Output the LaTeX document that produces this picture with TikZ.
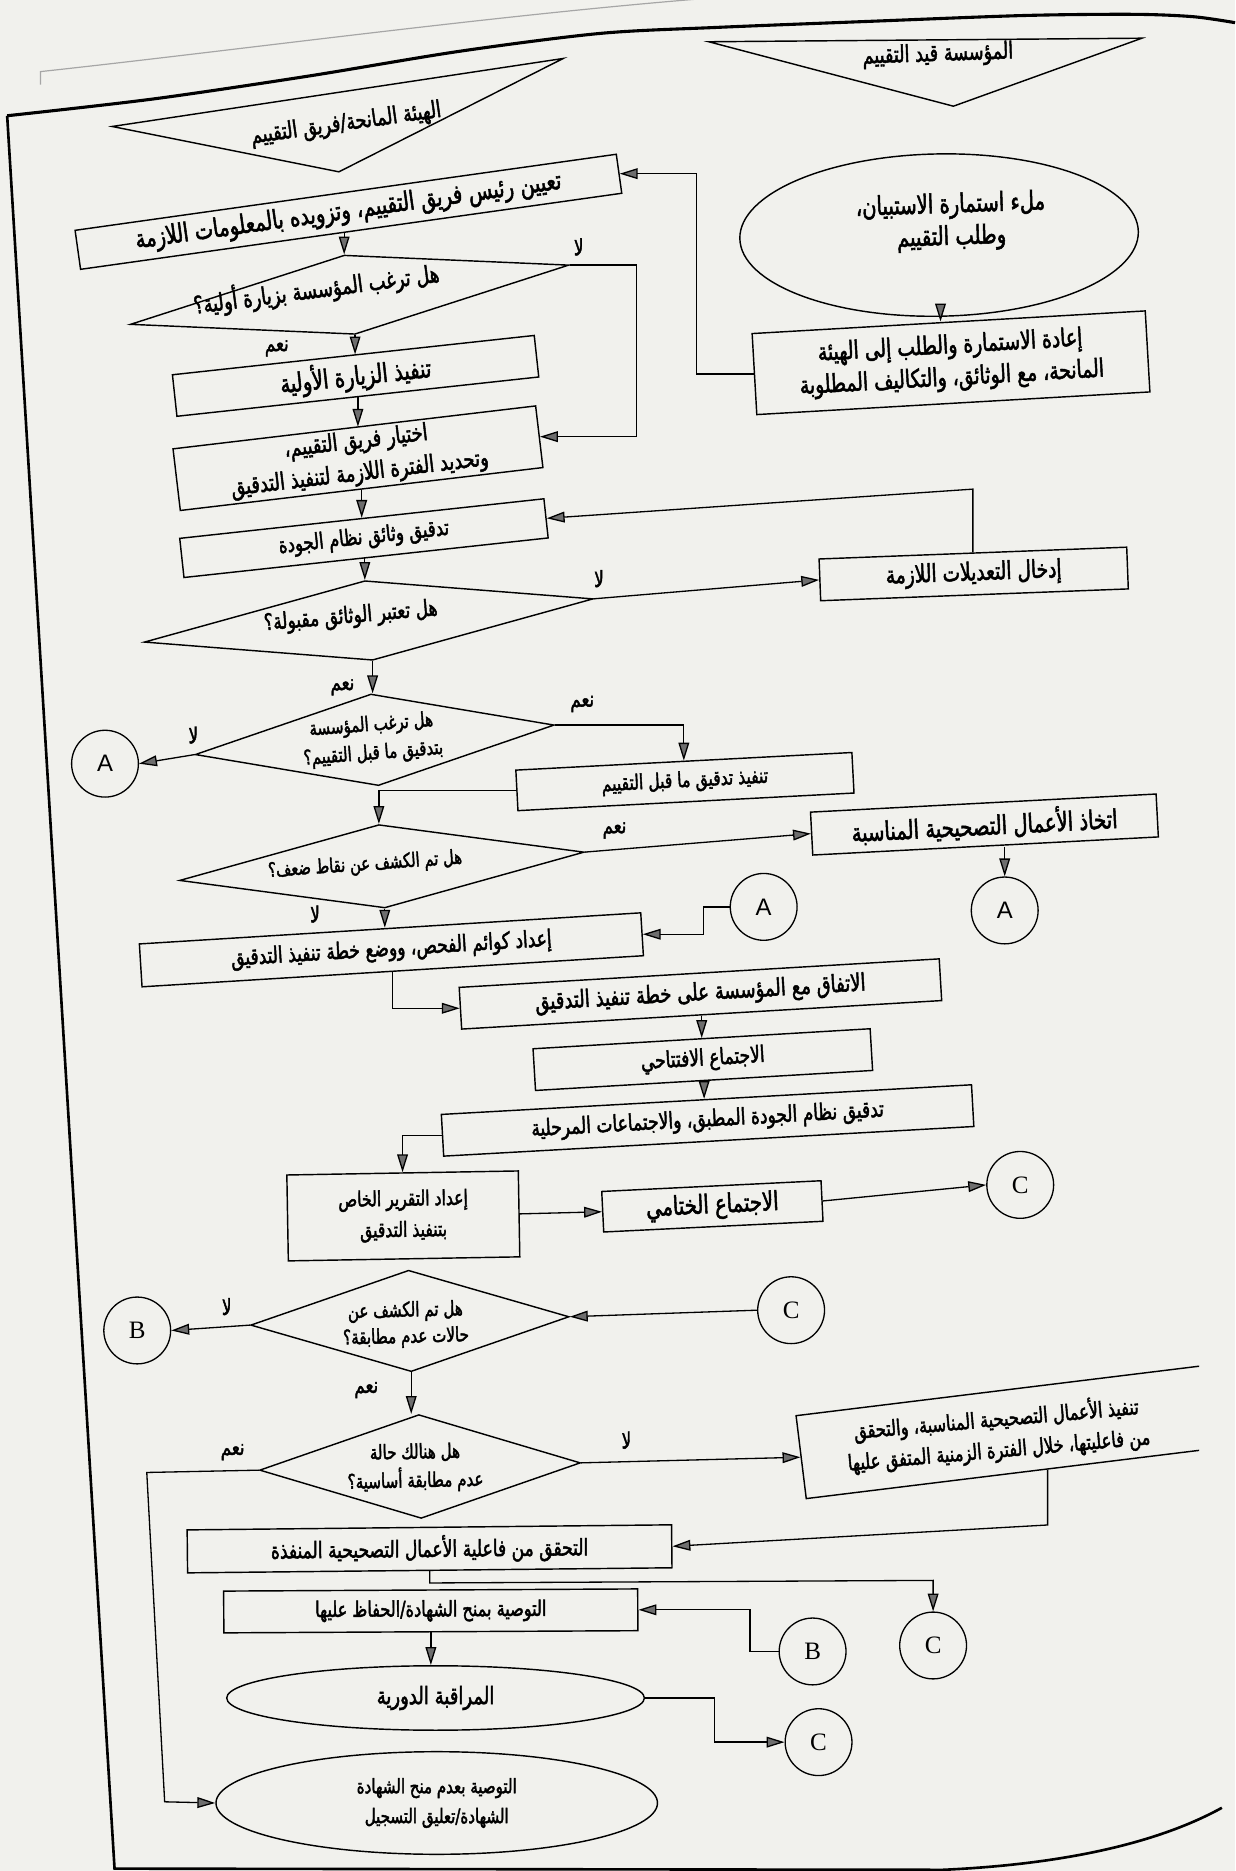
\documentclass[tikz,border=0pt]{standalone}
\usepackage{fontspec}
\usetikzlibrary{shapes.geometric,arrows.meta,calc}
\TeXXeTstate=1
\newfontfamily\arfont[Script=Arabic,FakeStretch=0.75,FakeBold=2]{DejaVu Sans}
\newfontfamily\serifletter{Liberation Serif}
\newfontfamily\sansletter{Liberation Sans}
\newcommand\artxt[1]{\beginR #1\endR}
\newcommand\arsize[2]{\arfont\fontsize{#1}{#2}\selectfont}
\definecolor{paper}{RGB}{241,241,237}
\definecolor{tipfill}{RGB}{110,110,110}
\begin{document}
\begin{tikzpicture}[x=1pt,y=-1pt,
  stepbox/.style={draw, line width=1.2pt, rectangle, inner sep=1pt, align=center,
    font=\arsize{19.7}{25}},
  decision/.style={draw, line width=1.2pt, diamond, inner sep=0pt},
  term/.style={draw, line width=1.2pt, ellipse, inner sep=0pt},
  conn/.style={draw, line width=1.1pt, circle, inner sep=0pt, minimum size=56pt,
    font=\serifletter\fontsize{21}{21}\selectfont},
  txt/.style={inner sep=0pt, align=center, font=\arsize{17.5}{24}},
  headtxt/.style={inner sep=0pt, align=center, font=\arsize{19.7}{20}},
  yn/.style={inner sep=0pt, font=\arsize{18.6}{18}},
  arr/.style={line width=1.1pt, -{Triangle[length=15pt,width=9pt,fill=tipfill]}},
  frame/.style={line width=2.2pt},
  ]
\fill[paper] (0,0) rectangle (1035,1568);
\useasboundingbox (0,0) rectangle (1035,1568);

% page frame
\draw[gray!70, line width=1pt] (34,71) -- (34,60) .. controls (200,42) and (420,12) .. (600,-2);
\draw[frame, line width=2.6pt] plot[smooth] coordinates {(1035,19) (1000,14) (950,12) (858,13) (726,18) (600,23) (503,28) (385,43) (257,64) (128,83) (6,97)};
\draw[frame] (6,97) -- (96,1566) -- (790,1567) .. controls (900,1562) and (975,1542) .. (1024,1515);

% column headers
\coordinate (h1l) at (94,106); \coordinate (h1r) at (472,49); \coordinate (h1b) at (284,144);
\draw[line width=1.2pt] (h1l) -- (h1r) -- (h1b) -- cycle;
\node[headtxt, rotate=8] (h1t) at (290,104) {\artxt{الهيئة المانحة/فريق التقييم}};
\coordinate (h2l) at (594,35); \coordinate (h2r) at (957,32); \coordinate (h2b) at (799,89);
\draw[line width=1.2pt] (h2l) -- (h2r) -- (h2b) -- cycle;
\node[headtxt, rotate=2] (h2t) at (786,46) {\artxt{المؤسسة قيد التقييم}};

% institution column
\node[term, minimum width=334pt, minimum height=136pt, rotate=1] (fillform) at (787,197) {};
\node[txt, rotate=2, font=\arsize{21.9}{27}] at (797,186) {\artxt{ملء استمارة الاستبيان،}\\\artxt{وطلب التقييم}};
\node[stepbox, minimum width=330pt, minimum height=68pt, rotate=3.3, font=\arsize{21}{27}] (iada) at (797,304)
  {\artxt{إعادة الاستمارة والطلب إلى الهيئة}\\\artxt{المانحة، مع الوثائق، والتكاليف المطلوبة}};

% main column
\node[stepbox, minimum width=458pt, minimum height=33pt, rotate=8, font=\arsize{21.9}{24}] (tayin) at (292,177.5)
  {\artxt{تعيين رئيس فريق التقييم، وتزويده بالمعلومات اللازمة}};
\node[decision, minimum width=371pt, minimum height=67pt, rotate=7.7] (d1) at (293,247) {};
\node[txt, rotate=7.5, font=\arsize{20.2}{24}] at (265,242) {\artxt{هل ترغب المؤسسة بزيارة أولية؟}};
\node[stepbox, minimum width=305pt, minimum height=35pt, rotate=6.2, font=\arsize{21.9}{24}] (ziyara) at (298,315)
  {\artxt{تنفيذ الزيارة الأولية}};
\node[stepbox, minimum width=306pt, minimum height=52pt, rotate=6.75, font=\arsize{20}{27}] (ikh) at (300,384)
  {\artxt{اختيار فريق التقييم،}\\\artxt{وتحديد الفترة اللازمة لتنفيذ التدقيق}};
\node[stepbox, minimum width=307pt, minimum height=33pt, rotate=6.2, font=\arsize{18.6}{24}] (tadwath) at (305,451)
  {\artxt{تدقيق وثائق نظام الجودة}};
\node[stepbox, minimum width=258pt, minimum height=35pt, rotate=2.2, font=\arsize{20.8}{24}] (idkhal) at (816,481)
  {\artxt{إدخال التعديلات اللازمة}};
\node[decision, minimum width=378pt, minimum height=67pt, rotate=5.5] (d2) at (309,520) {};
\node[txt, rotate=5, font=\arsize{19.1}{24}] at (294,517) {\artxt{هل تعتبر الوثائق مقبولة؟}};
\node[decision, minimum width=302pt, minimum height=77pt, rotate=4.7] (d3) at (314,620) {};
\node[txt, rotate=4.5, font=\arsize{16.9}{24}] at (312,620) {\artxt{هل ترغب المؤسسة}\\\artxt{بتدقيق ما قبل التقييم؟}};
\node[conn, font=\sansletter\fontsize{20}{20}\selectfont] (a1) at (88,640) {A};
\node[stepbox, minimum width=282pt, minimum height=34pt, rotate=3, font=\arsize{17.5}{24}] (qabl) at (574,655)
  {\artxt{تنفيذ تدقيق ما قبل التقييم}};
\node[decision, minimum width=340pt, minimum height=70pt, rotate=4] (d4) at (320,726) {};
\node[txt, rotate=4, font=\arsize{16.5}{24}] at (306,725) {\artxt{هل تم الكشف عن نقاط ضعف؟}};
\node[stepbox, minimum width=290pt, minimum height=36pt, rotate=3, font=\arsize{21.9}{24}] (itt) at (825,691)
  {\artxt{اتخاذ الأعمال التصحيحية المناسبة}};
\node[conn, font=\sansletter\fontsize{20}{20}\selectfont] (a2) at (842,763) {A};
\node[conn, font=\sansletter\fontsize{20}{20}\selectfont] (a3) at (640,760) {A};
\node[stepbox, minimum width=421pt, minimum height=36pt, rotate=3.55, font=\arsize{19.1}{24}] (kawaim) at (328,796)
  {\artxt{إعداد كوائم الفحص، ووضع خطة تنفيذ التدقيق}};
\node[stepbox, minimum width=403pt, minimum height=35pt, rotate=3.4, font=\arsize{20.2}{24}] (ittifaq) at (587,833)
  {\artxt{الاتفاق مع المؤسسة على خطة تنفيذ التدقيق}};
\node[stepbox, minimum width=283pt, minimum height=35pt, rotate=3.4, font=\arsize{19.1}{24}] (iftitah) at (589,888)
  {\artxt{الاجتماع الافتتاحي}};
\node[stepbox, minimum width=445pt, minimum height=35pt, rotate=3.2, font=\arsize{19.1}{24}] (nizam) at (593,939)
  {\artxt{تدقيق نظام الجودة المطبق، والاجتماعات المرحلية}};
\node[stepbox, minimum width=194pt, minimum height=72pt, rotate=1, font=\arsize{17.5}{26}] (taqrir) at (338,1019)
  {\artxt{إعداد التقرير الخاص}\\\artxt{بتنفيذ التدقيق}};
\node[stepbox, minimum width=184pt, minimum height=34pt, rotate=2.8, font=\arsize{21.9}{24}] (khitam) at (597,1011)
  {\artxt{الاجتماع الختامي}};
\node[conn] (c1) at (855,993) {C};
\node[decision, minimum width=267pt, minimum height=85pt, rotate=1.5] (d5) at (343.5,1107) {};
\node[txt, rotate=1.5, font=\arsize{16.9}{22}] at (340,1110) {\artxt{هل تم الكشف عن}\\\artxt{حالات عدم مطابقة؟}};
\node[conn] (c2) at (663,1098) {C};
\node[conn] (b1) at (115,1115) {B};
\node[decision, minimum width=269pt, minimum height=87pt, rotate=1.3] (d6) at (352,1229) {};
\node[txt, rotate=1.3, font=\arsize{16.9}{24}] at (348,1230) {\artxt{هل هنالك حالة}\\\artxt{عدم مطابقة أساسية؟}};
\begin{scope}
  \clip (0,0) rectangle (1005,1568);
  \node[draw, line width=1.2pt, rectangle, minimum width=380pt, minimum height=70pt, rotate=7] (tasih) at (860,1198) {};
\end{scope}
\node[txt, rotate=5, font=\arsize{18.2}{26}] at (836,1202)
  {\artxt{تنفيذ الأعمال التصحيحية المناسبة، والتحقق}\\\artxt{من فاعليتها، خلال الفترة الزمنية المتفق عليها}};
\node[stepbox, minimum width=406pt, minimum height=36pt, rotate=0.6, font=\arsize{19.1}{24}] (tahaqquq) at (360,1298)
  {\artxt{التحقق من فاعلية الأعمال التصحيحية المنفذة}};
\node[stepbox, minimum width=347pt, minimum height=35pt, rotate=0.3, font=\arsize{18}{24}] (towsia) at (361,1350)
  {\artxt{التوصية بمنح الشهادة/الحفاظ عليها}};
\node[conn] (b2) at (681,1384) {B};
\node[conn] (c3) at (782,1379) {C};
\node[term, minimum width=350pt, minimum height=54pt, font=\arsize{20.2}{24}] (muraqaba) at (365,1423)
  {\artxt{المراقبة الدورية}};
\node[conn] (c4) at (686,1460) {C};
\node[term, minimum width=370pt, minimum height=86pt, align=center,
  font=\arsize{16.8}{25}] (rafd) at (366,1511)
  {\artxt{التوصية بعدم منح الشهادة}\\\artxt{الشهادة/تعليق التسجيل}};

% connectors
\draw[arr] (d1.north |- tayin.south) -- (d1.north);
\draw[arr] (d1.east) -- ++(56,0) |- (ikh.east);
\draw[arr] (d1.south) -- (d1.south |- ziyara.north);
\draw[arr] (ziyara.south) -- (ziyara.south |- ikh.north);
\draw[arr] (ikh.south) -- (ikh.south |- tadwath.north);
\draw[arr] (d2.north |- tadwath.south) -- (d2.north);
\draw[arr] (d2.east) -- (idkhal.west);
\draw[arr] (idkhal.north) -- ++(0,-53) -- (tadwath.east);
\draw[arr] (d2.south) -- (d2.south |- d3.north);
\draw[arr] (d3.east) -- (qabl.north |- d3.east) -- (qabl.north);
\draw[arr] (d3.west) -- (a1.east);
\draw[arr] (qabl.west) -- (qabl.west -| d4.north) -- (d4.north);
\draw[arr] (d4.east) -- (itt.west);
\draw[arr] (a2.north |- itt.south) -- (a2.north);
\draw[arr] (d4.south) -- (d4.south |- kawaim.north);
\draw[arr] (a3.west) -- ++(-22,0) |- (kawaim.east);
\draw[arr] (kawaim.south) -- (kawaim.south |- ittifaq.west) -- (ittifaq.west);
\draw[arr] (ittifaq.south) -- (ittifaq.south |- iftitah.north);
\draw[arr] (iftitah.south) -- (iftitah.south |- nizam.north);
\draw[arr] (nizam.west) -- (nizam.west -| taqrir.north) -- (taqrir.north);
\draw[arr] (taqrir.east) -- (khitam.west);
\draw[arr] (khitam.east) -- (c1.west);
\draw[arr] (c2.west) -- (d5.east);
\draw[arr] (d5.west) -- (b1.east);
\draw[arr] (d5.south) -- (d5.south |- d6.north);
\draw[arr] (d6.east) -- (tasih.west);
\coordinate (nb1) at (123,1234);
\coordinate (nb2) at (138,1510);
\draw[arr] (d6.west) -- (nb1) -- (nb2) -- (rafd.west);
\coordinate (tsb) at ($(tasih.south west)!0.536!(tasih.south east)$);
\coordinate (tsy) at (0,1278);
\draw[arr] (tsb) -- (tsb |- tsy) -- (tahaqquq.east);
\draw[arr] (tahaqquq.south) -- ++(0,10) -- ($(c3.north)+(0,-26)$) -- (c3.north);
\draw[arr] (b2.west) -- ++(-24,0) |- (towsia.east);
\draw[arr] (towsia.south) -- (towsia.south |- muraqaba.north);
\draw[arr] (muraqaba.east) -- ++(58,0) |- (c4.west);
\draw[arr] (fillform.south) -- (fillform.south |- iada.north);
\draw[arr] (iada.west) -- ++(-48,0) |- (tayin.east);

% branch labels
\node[yn] at (485,207) {\artxt{لا}};
\node[yn] at (232,292) {\artxt{نعم}};
\node[yn] at (502,485) {\artxt{لا}};
\node[yn] at (287,576) {\artxt{نعم}};
\node[yn] at (488,590) {\artxt{نعم}};
\node[yn] at (162,616) {\artxt{لا}};
\node[yn] at (515,696) {\artxt{نعم}};
\node[yn] at (264,766) {\artxt{لا}};
\node[yn] at (190,1095) {\artxt{لا}};
\node[yn] at (307,1165) {\artxt{نعم}};
\node[yn] at (525,1207) {\artxt{لا}};
\node[yn] at (195,1217) {\artxt{نعم}};
\end{tikzpicture}
\end{document}
